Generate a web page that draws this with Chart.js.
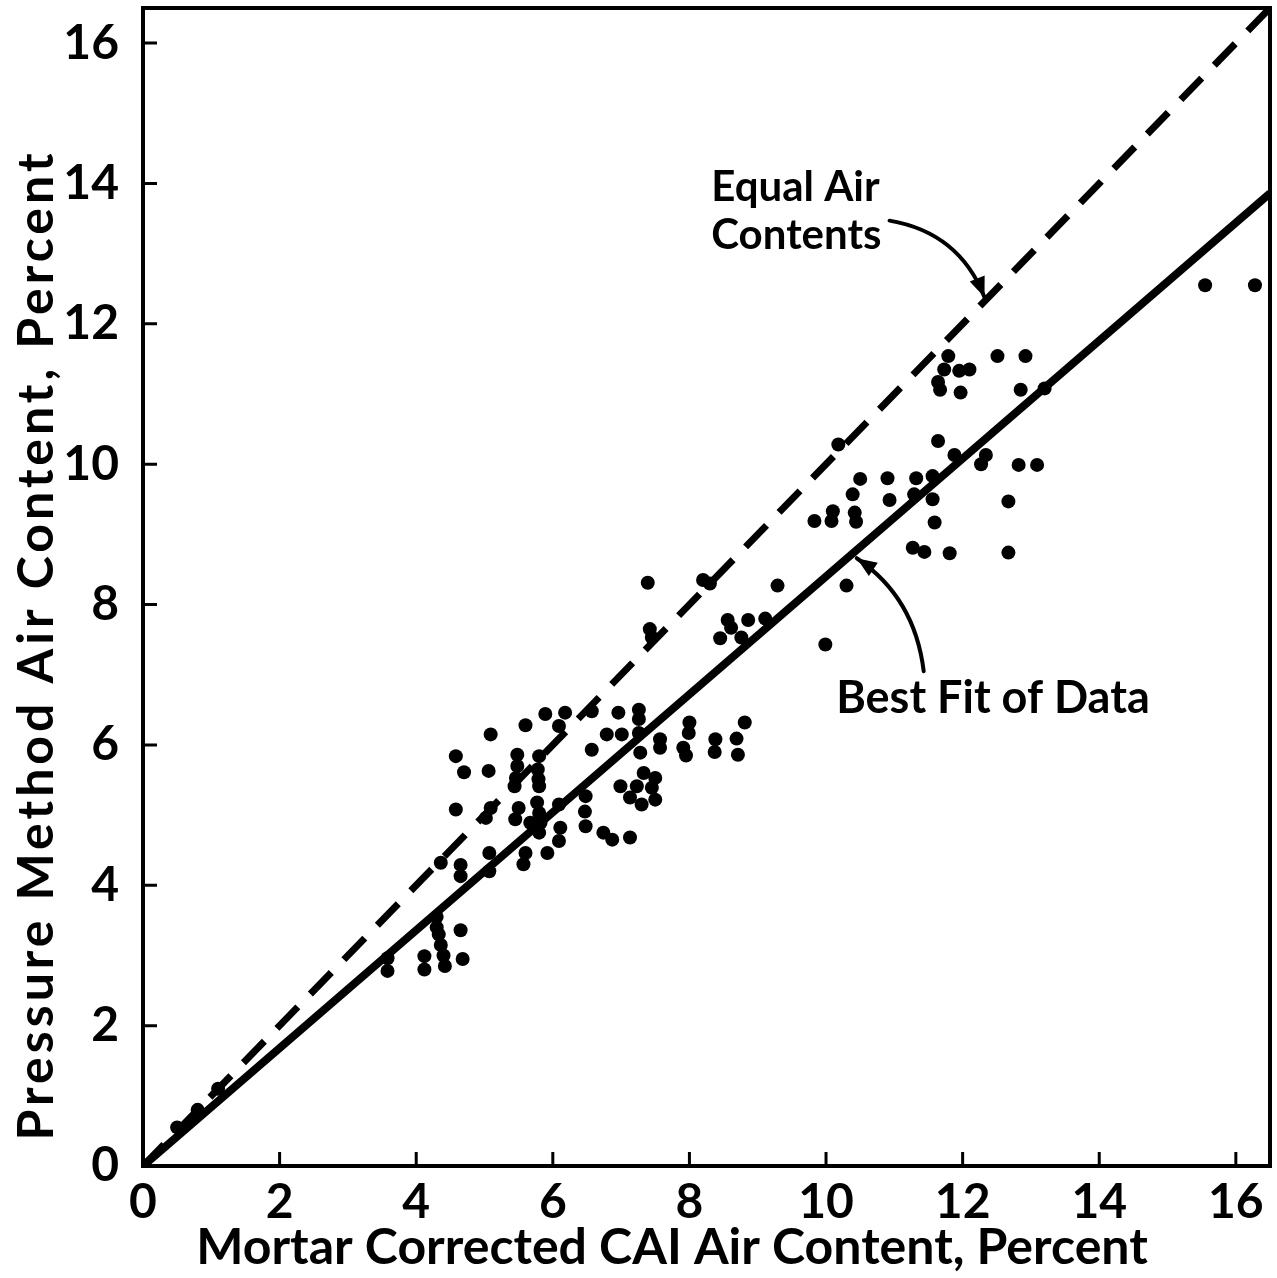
<!DOCTYPE html>
<html lang="en">
<head>
    <meta charset="UTF-8">
    <title>Pressure Method vs CAI Air Content</title>
    <script src="https://cdn.jsdelivr.net/npm/chart.js"></script>
    <style>
        html, body { margin: 0; padding: 0; background: #fff; }
        .chart-container { position: relative; width: 1277px; height: 1278px; }
    </style>
</head>
<body>
    <div class="chart-container">
        <canvas id="airChart"></canvas>
    </div>

    <script>
        // Mortar corrected CAI air content (%) and pressure method air content (%)
        const caiAir = [
            0.5, 0.8, 1.1, 3.58, 3.58, 4.12, 4.12, 4.3, 4.3, 4.33, 4.36, 4.4, 4.42, 4.65, 4.68,
            4.36, 4.65, 4.65, 5.07, 5.07, 5.6, 5.57, 5.92, 6.09, 5.67, 5.8,
            4.58, 5.09, 5.02, 5.5, 5.45, 5.77, 5.8, 5.82, 6.09, 6.11, 6.48, 6.47, 6.48,
            4.58, 4.7, 5.06, 5.48, 5.48, 5.46, 5.44, 5.8, 5.78, 5.79, 5.8,
            5.09, 5.6, 5.89, 6.18, 6.09, 6.57, 6.57, 6.96, 7.26, 7.26, 7.26, 7.28, 6.79, 7.01,
            7.57, 7.57, 7.33, 7.5, 7.23, 7.45, 6.99, 7.13, 7.3, 7.5, 6.74, 6.87, 7.13,
            7.39, 7.42, 7.45, 8.0, 7.99, 7.91, 7.95, 8.38, 8.37, 8.69, 8.71, 8.81,
            8.2, 8.3, 9.29, 8.56, 8.61, 8.45, 8.86, 8.76, 9.11, 9.99, 10.3,
            9.83, 10.1, 10.08, 10.42, 10.44, 10.39, 10.5, 10.9, 10.93, 11.32, 11.29, 11.56, 11.56, 11.59,
            11.27, 11.44, 11.81, 10.18, 11.64, 11.88, 12.34, 12.27, 12.82, 13.09, 12.67, 12.67,
            11.79, 11.73, 11.95, 12.1, 11.64, 11.67, 11.97, 12.51, 12.92, 12.85, 13.2,
            15.55, 16.28
        ];
        const pressureAir = [
            0.55, 0.8, 1.1, 2.96, 2.78, 2.99, 2.8, 3.55, 3.4, 3.3, 3.15, 3.0, 2.85, 3.36, 2.95,
            4.32, 4.29, 4.13, 4.46, 4.2, 4.46, 4.3, 4.46, 4.63, 4.89, 4.75,
            5.08, 5.1, 4.96, 5.1, 4.94, 5.18, 5.03, 4.89, 5.15, 4.82, 5.27, 5.05, 4.84,
            5.84, 5.61, 5.63, 5.86, 5.7, 5.53, 5.41, 5.84, 5.65, 5.51, 5.41,
            6.15, 6.28, 6.44, 6.46, 6.27, 6.48, 5.93, 6.46, 6.5, 6.37, 6.17, 5.89, 6.15, 6.15,
            6.08, 5.96, 5.6, 5.53, 5.41, 5.39, 5.41, 5.25, 5.15, 5.22, 4.75, 4.65, 4.68,
            8.31, 7.65, 7.53, 6.32, 6.17, 5.96, 5.85, 6.08, 5.9, 6.09, 5.86, 6.32,
            8.35, 8.3, 8.27, 7.78, 7.67, 7.52, 7.78, 7.53, 7.8, 7.43, 8.27,
            9.19, 9.33, 9.19, 9.31, 9.18, 9.57, 9.79, 9.8, 9.49, 9.8, 9.57, 9.83, 9.5, 9.17,
            8.81, 8.75, 8.73, 10.28, 10.33, 10.13, 10.13, 10.0, 9.99, 9.99, 9.47, 8.74,
            11.54, 11.35, 11.33, 11.35, 11.17, 11.06, 11.02, 11.54, 11.54, 11.06, 11.08,
            12.55, 12.55
        ];

        // reference lines: equal air contents and the best fit of the data
        const equalLineX = [0, 16.5];
        const equalLineY = [0, 16.5];
        const fitLineX = [0, 16.5];
        const fitLineY = [0, 13.86];

        const axisTicks = [0, 2, 4, 6, 8, 10, 12, 14, 16];

        const xTitle = 'Mortar Corrected CAI Air Content, Percent';
        const yTitle = 'Pressure Method Air Content, Percent';

        const FONT = 'Lato, "DejaVu Sans", sans-serif';

        // little labelled arrows pointing at the two lines
        const notes = [
            { lines: ['Equal Air', 'Contents'], x: 8.32, y: 13.75, size: 42,
              arrow: { from: [10.93, 13.47], ctrl: [11.95, 13.3], to: [12.32, 12.38] } },
            { lines: ['Best Fit of Data'], x: 10.15, y: 6.46, size: 45,
              arrow: { from: [11.43, 7.05], ctrl: [11.3, 8.1], to: [10.45, 8.66] } }
        ];

        const framePlugin = {
            id: 'frame',
            afterDatasetsDraw(chart) {
                const ctx = chart.ctx;
                const area = chart.chartArea;
                const xs = chart.scales.x;
                const ys = chart.scales.y;
                ctx.save();
                ctx.strokeStyle = '#000';
                ctx.fillStyle = '#000';

                // box round the plot
                ctx.lineWidth = 4;
                ctx.strokeRect(area.left, area.top, area.right - area.left, area.bottom - area.top);

                // inward tick marks
                ctx.lineWidth = 3;
                ctx.beginPath();
                axisTicks.forEach(v => {
                    if (v === 0) return;
                    const px = xs.getPixelForValue(v);
                    ctx.moveTo(px, area.bottom);
                    ctx.lineTo(px, area.bottom - 14);
                    const py = ys.getPixelForValue(v);
                    ctx.moveTo(area.left, py);
                    ctx.lineTo(area.left + 14, py);
                });
                ctx.stroke();

                // axis titles
                ctx.textAlign = 'center';
                ctx.textBaseline = 'alphabetic';
                ctx.font = 'bold 50px ' + FONT;
                ctx.fillText(xTitle, 672, 1264);
                ctx.save();
                ctx.translate(53, 645);
                ctx.rotate(-Math.PI / 2);
                ctx.letterSpacing = '4px';
                ctx.fillText(yTitle, 0, 0);
                ctx.restore();

                // notes with curved arrows
                notes.forEach(n => {
                    ctx.font = 'bold ' + n.size + 'px ' + FONT;
                    ctx.textAlign = 'left';
                    const tx = xs.getPixelForValue(n.x);
                    let ty = ys.getPixelForValue(n.y);
                    n.lines.forEach(t => {
                        ctx.fillText(t, tx, ty);
                        ty += n.size * 1.15;
                    });

                    const a = n.arrow;
                    const p0 = [xs.getPixelForValue(a.from[0]), ys.getPixelForValue(a.from[1])];
                    const pc = [xs.getPixelForValue(a.ctrl[0]), ys.getPixelForValue(a.ctrl[1])];
                    const p1 = [xs.getPixelForValue(a.to[0]), ys.getPixelForValue(a.to[1])];
                    ctx.lineWidth = 4;
                    ctx.lineCap = 'round';
                    ctx.beginPath();
                    ctx.moveTo(p0[0], p0[1]);
                    ctx.quadraticCurveTo(pc[0], pc[1], p1[0], p1[1]);
                    ctx.stroke();

                    const ang = Math.atan2(p1[1] - pc[1], p1[0] - pc[0]);
                    const len = 20, half = 8;
                    ctx.beginPath();
                    ctx.moveTo(p1[0], p1[1]);
                    ctx.lineTo(p1[0] - len * Math.cos(ang) + half * Math.sin(ang),
                               p1[1] - len * Math.sin(ang) - half * Math.cos(ang));
                    ctx.lineTo(p1[0] - len * Math.cos(ang) - half * Math.sin(ang),
                               p1[1] - len * Math.sin(ang) + half * Math.cos(ang));
                    ctx.closePath();
                    ctx.fill();
                });
                ctx.restore();
            }
        };

        const toPoints = (xs, ys) => xs.map((x, i) => ({ x: x, y: ys[i] }));

        new Chart(document.getElementById('airChart').getContext('2d'), {
            type: 'scatter',
            data: {
                datasets: [
                    {
                        label: 'Data',
                        data: toPoints(caiAir, pressureAir),
                        backgroundColor: '#000',
                        borderWidth: 0,
                        pointRadius: 7
                    },
                    {
                        type: 'line',
                        label: 'Best Fit of Data',
                        data: toPoints(fitLineX, fitLineY),
                        borderColor: '#000',
                        borderWidth: 8,
                        pointRadius: 0
                    },
                    {
                        type: 'line',
                        label: 'Equal Air Contents',
                        data: toPoints(equalLineX, equalLineY),
                        borderColor: '#000',
                        borderWidth: 7,
                        borderDash: [30, 18],
                        pointRadius: 0
                    }
                ]
            },
            options: {
                responsive: true,
                maintainAspectRatio: false,
                animation: false,
                devicePixelRatio: 1,
                layout: { padding: { top: 8, right: 4, left: 0, bottom: 0 } },
                plugins: {
                    legend: { display: false },
                    tooltip: { enabled: false }
                },
                scales: {
                    x: {
                        type: 'linear',
                        min: 0,
                        max: 16.5,
                        afterBuildTicks: s => { s.ticks = axisTicks.map(v => ({ value: v })); },
                        afterFit: s => { s.height = 112; s.paddingLeft = 0; s.paddingRight = 0; },
                        grid: { display: false, drawTicks: false },
                        border: { display: false },
                        ticks: { color: '#000', padding: 8, maxRotation: 0, font: { family: FONT, size: 48, weight: 'bold' } }
                    },
                    y: {
                        type: 'linear',
                        min: 0,
                        max: 16.5,
                        afterBuildTicks: s => { s.ticks = axisTicks.map(v => ({ value: v })); },
                        afterFit: s => { s.width = 143; s.paddingTop = 0; s.paddingBottom = 0; },
                        grid: { display: false, drawTicks: false },
                        border: { display: false },
                        ticks: { color: '#000', padding: 24, font: { family: FONT, size: 48, weight: 'bold' } }
                    }
                }
            },
            plugins: [framePlugin]
        });
    </script>
</body>
</html>
